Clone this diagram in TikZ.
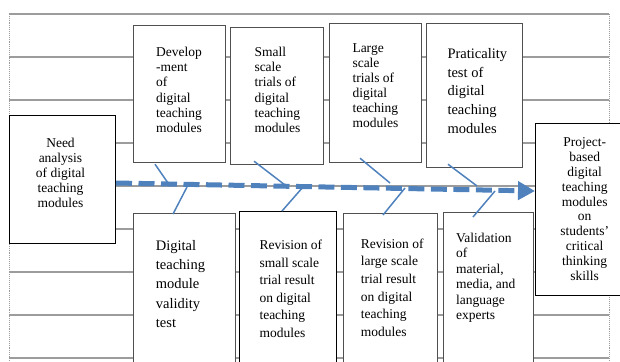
\documentclass[tikz,border=0pt]{standalone}
\usepackage{fontspec}
\setmainfont{Liberation Serif}
\usetikzlibrary{arrows.meta,calc}
\definecolor{bone}{HTML}{4F81BD}
\definecolor{rulegray}{HTML}{9C9C9C}
\definecolor{framegray}{HTML}{505050}

\begin{document}
\begin{tikzpicture}[x=1pt,y=-1pt,
  box/.style={draw=framegray,line width=1.2pt,fill=white,inner sep=0pt,anchor=north west},
  darkbox/.style={box,draw=black,line width=1.4pt},
  lab/.style={inner sep=0pt,anchor=north west,align=left,text=black},
  clab/.style={inner sep=0pt,anchor=north,align=center,text=black},
  sz/.style 2 args={font=\fontsize{#1}{#2}\selectfont},
  tablerule/.style={draw=rulegray,line width=1.1pt},
  tableedge/.style={draw=rulegray,line width=0.9pt,densely dotted},
  spine/.style={bone,line width=5pt,dash pattern=on 16pt off 6.5pt,
    -{Triangle[length=17pt,width=18pt]}},
  rib/.style={bone,line width=1.5pt}]

\useasboundingbox (0,0) rectangle (620,361);

% background table rules
\foreach \yy in {14,57,100,143,186,229,272,315,358}
  \draw[tablerule] (9,\yy) -- (609,\yy);
\draw[tableedge] (9,14) -- (9,361);
\draw[tableedge] (609,14) -- (609,361);

% upper row of boxes
\node[darkbox,minimum width=106pt,minimum height=128pt] (need) at (9,115) {};
\node[box,minimum width=92pt,minimum height=137pt] (dev) at (133,25) {};
\node[box,minimum width=93pt,minimum height=137pt] (small) at (230,27) {};
\node[box,minimum width=92pt,minimum height=139pt] (large) at (329,23) {};
\node[box,minimum width=96pt,minimum height=144pt] (prac) at (426,23) {};
\node[darkbox,minimum width=90pt,minimum height=172pt] (proj) at (535,123) {};

% lower row of boxes
\node[box,minimum width=102pt,minimum height=160pt] (valid) at (133,213) {};
\node[darkbox,minimum width=97pt,minimum height=160pt] (revs) at (239,211) {};
\node[box,minimum width=94pt,minimum height=160pt] (revl) at (343,213) {};
\node[box,minimum width=90pt,minimum height=160pt] (vmat) at (443,212) {};

% main arrow
\coordinate (s0) at (116,183);
\coordinate (s1) at (535,191);
\draw[spine] (s0) -- (s1);

% ribs joining the boxes to the arrow
\coordinate (r1) at (168,183);
\coordinate (r2) at (285,185);
\coordinate (r3) at (390,183);
\coordinate (r4) at (477,186);
\coordinate (r5) at (187,187);
\coordinate (r6) at (303,187);
\coordinate (r7) at (405,188);
\coordinate (r8) at (495,191);
\draw[rib] ([xshift=22pt,yshift=-1pt]dev.south west) -- (r1);
\draw[rib] ([xshift=24pt,yshift=4pt]small.south west) -- (r2);
\draw[rib] ([xshift=31pt,yshift=5pt]large.south west) -- (r3);
\draw[rib] ([xshift=22pt,yshift=4pt]prac.south west) -- (r4);
\draw[rib] (r5) -- ([xshift=40pt,yshift=-1pt]valid.north west);
\draw[rib] (r6) -- ([xshift=43pt]revs.north west);
\draw[rib] (r7) -- ([xshift=40pt,yshift=-2pt]revl.north west);
\draw[rib] (r8) -- ([xshift=30pt,yshift=-5pt]vmat.north west);

% box texts
\node[clab,sz={13.5}{15}] (tneed) at (60.5,138.3)
  {Need\\analysis\\of digital\\teaching\\modules};
\node[lab,sz={13.5}{15.3}] (tdev) at (156,46.7)
  {Develop\\-ment\\of\\digital\\teaching\\modules};
\node[lab,sz={13.5}{15.3}] (tsmall) at (254.3,46.7)
  {Small\\scale\\trials of\\digital\\teaching\\modules};
\node[lab,sz={13.5}{15}] (tlarge) at (352.3,43.3)
  {Large\\scale\\trials of\\digital\\teaching\\modules};
\node[lab,sz={14.5}{18.7}] (tprac) at (447.3,48.3)
  {Praticality\\test of\\digital\\teaching\\modules};
\node[clab,sz={13.5}{14.8}] (tproj) at (584.7,137.7)
  {Project-\\based\\digital\\teaching\\modules\\on\\students'\\critical\\thinking\\skills};
\node[lab,sz={14.5}{19.3}] (tvalid) at (155.7,240)
  {Digital\\teaching\\module\\validity\\test};
\node[lab,sz={13.5}{17.5}] (trevs) at (259.3,240)
  {Revision of\\small scale\\trial result\\on digital\\teaching\\modules};
\node[lab,sz={13.5}{17.7}] (trevl) at (360.7,238.3)
  {Revision of\\large scale\\trial result\\on digital\\teaching\\modules};
\node[lab,sz={13.5}{15.5}] (tvmat) at (456,232.7)
  {Validation\\of\\material,\\media, and\\language\\experts};
\end{tikzpicture}
\end{document}
